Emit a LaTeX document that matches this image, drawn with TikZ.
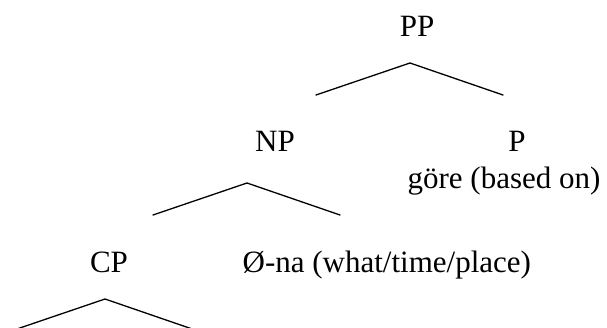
\documentclass[tikz,border=0pt]{standalone}
\usepackage{fontspec}
\setmainfont{Liberation Serif}
\usetikzlibrary{positioning}
\definecolor{fg}{RGB}{0,0,0}
\definecolor{bg}{RGB}{255,255,255}
\tikzset{
  every picture/.style={fg, line width=1.3pt, line cap=round, line join=round},
  every node/.style={font=\fontsize{31}{36}\selectfont, inner sep=0pt},
  % Knoten und Äste
  cat/.style={anchor=base},
  word/.style={anchor=base west},
  branch/.style={line width=1.3pt},
}
\begin{document}
\begin{tikzpicture}[x=1pt, y=-1pt]
  \useasboundingbox[fill=bg] (0,0) rectangle (607,328);
  % Kategorien
  \node[cat] (pp) at (417,37) {PP};
  \node[cat] (np) at (275,152) {NP};
  \node[cat] (p) at (517,152) {P};
  \node[cat] (cp) at (109,273) {CP};
  % Wörter
  \node[word] (gore) at (407,189) {göre (based on)};
  \node[word] (na) at (242,273) {Ø-na (what/time/place)};
  % Äste (Spitze, links, rechts)
  \coordinate (pptop) at (410,63);
  \coordinate (ppl) at (316,95);
  \coordinate (ppr) at (503,95);
  \coordinate (nptop) at (247,183);
  \coordinate (npl) at (153,215);
  \coordinate (npr) at (340,215);
  \coordinate (cptop) at (105,299);
  \coordinate (cpl) at (11,331);
  \coordinate (cpr) at (198,331);
  \draw[branch] (ppl) -- (pptop) -- (ppr);
  \draw[branch] (npl) -- (nptop) -- (npr);
  \begin{scope}
    \clip (0,0) rectangle (607,328);
    \draw[branch] (cpl) -- (cptop) -- (cpr);
  \end{scope}
\end{tikzpicture}
\end{document}
